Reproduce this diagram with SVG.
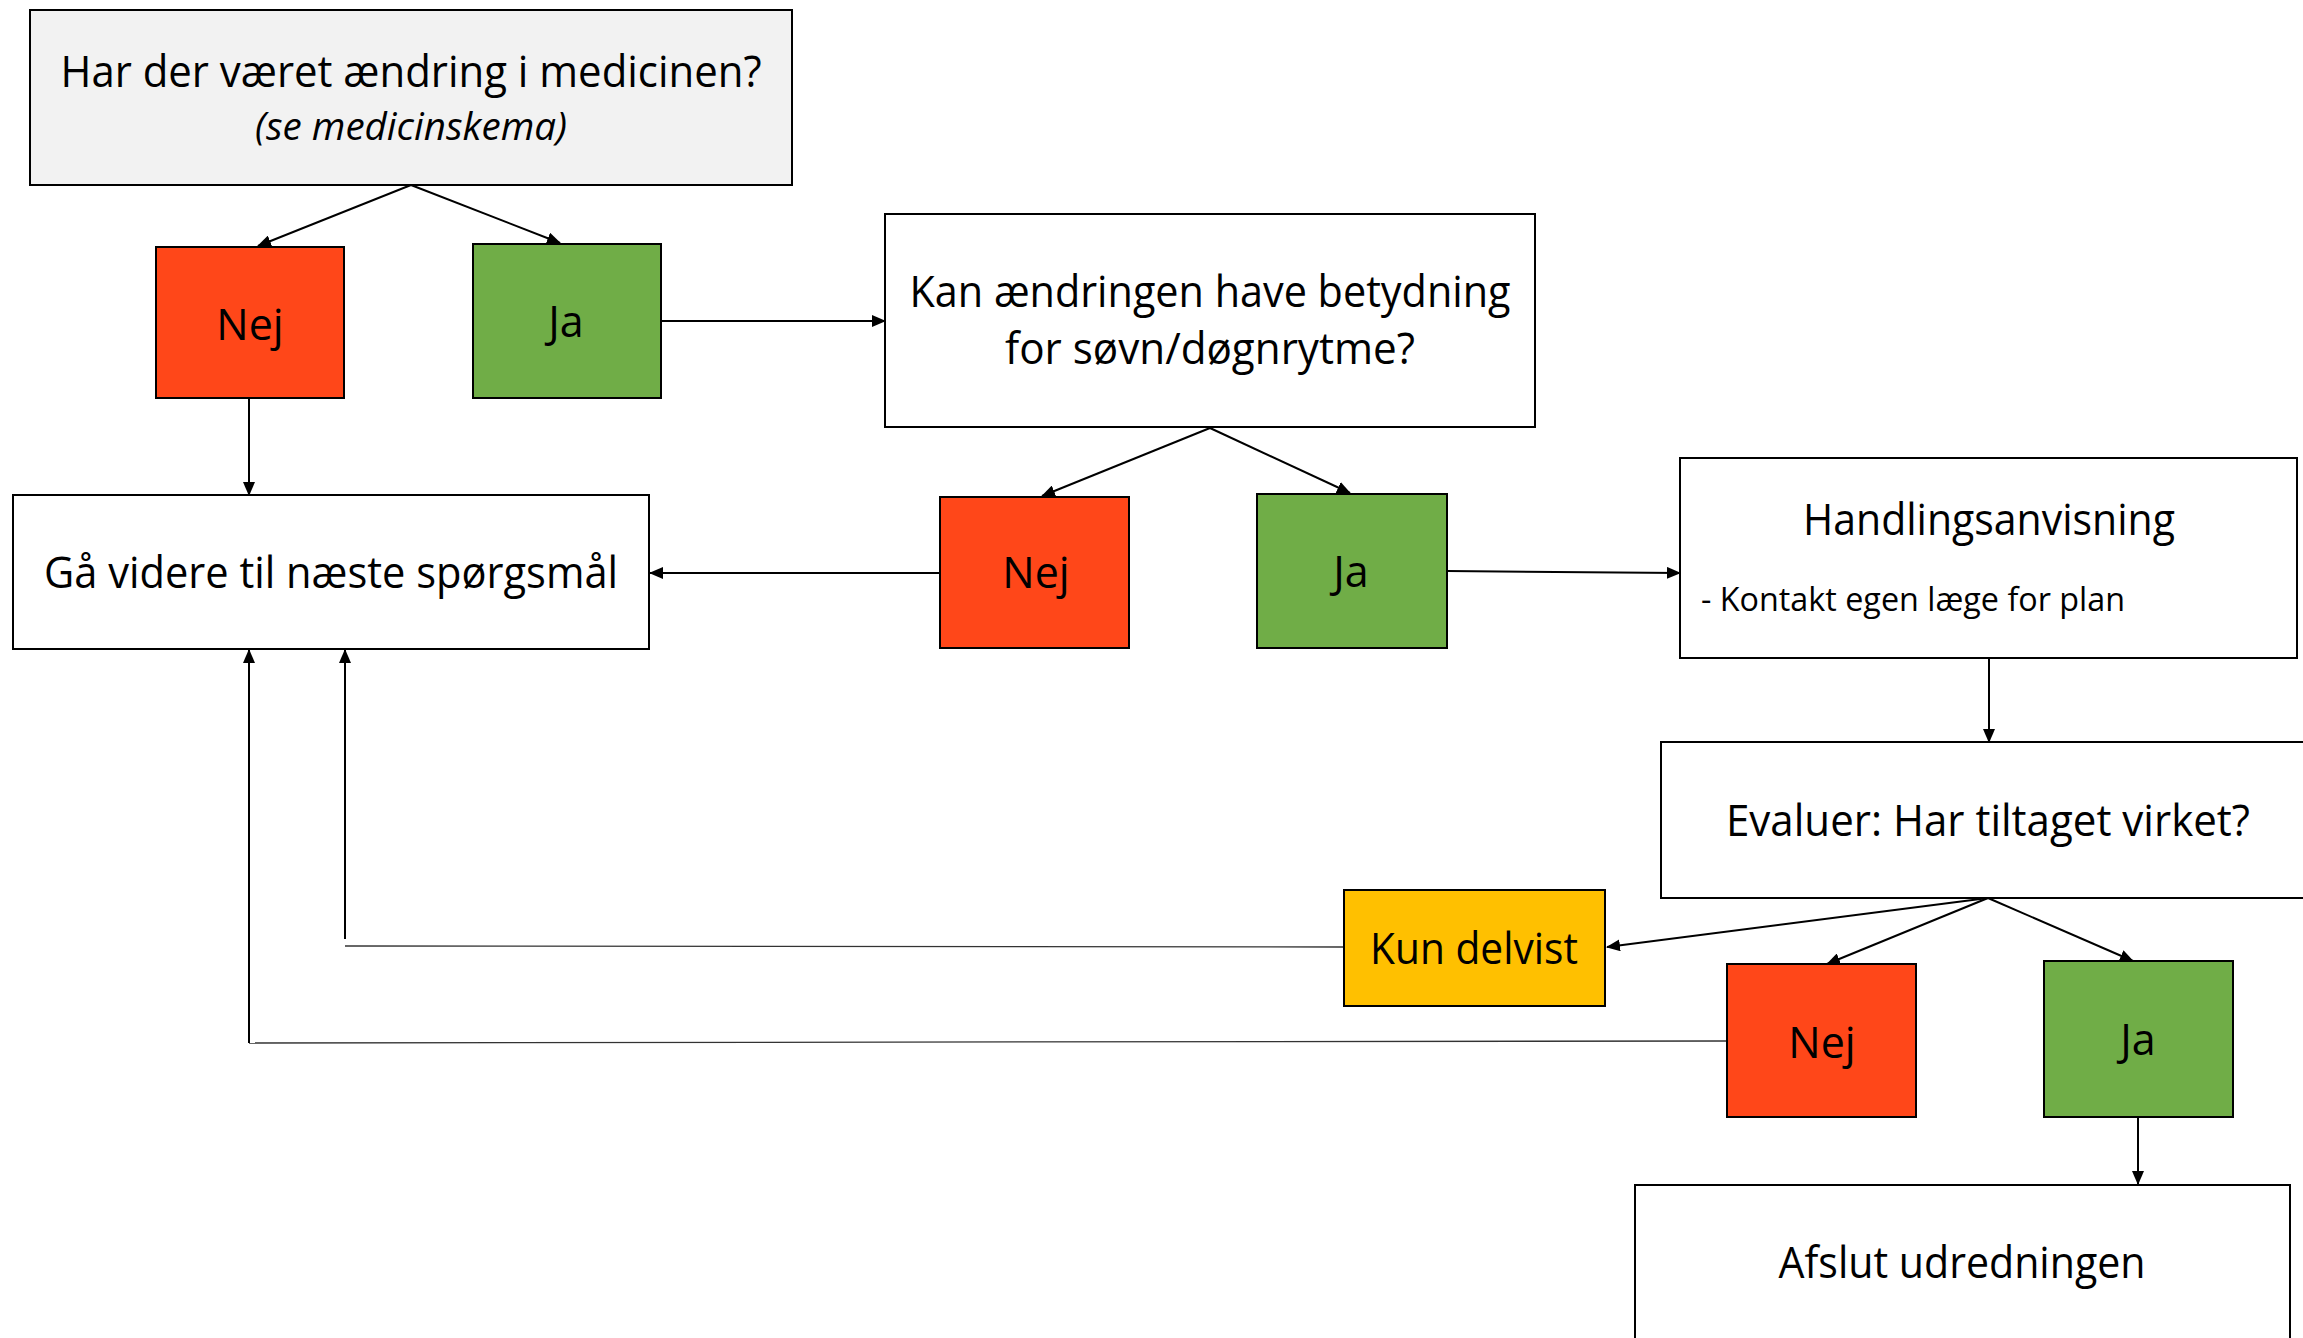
<svg xmlns="http://www.w3.org/2000/svg" width="2303" height="1338" viewBox="0 0 2303 1338">
<style>
.box{stroke:#000;stroke-width:2;fill:#fff}
.grey{fill:#F2F2F2}
.red{fill:#FF4719}
.green{fill:#70AD47}
.yellow{fill:#FFC000}
text{font-family:"Open Sans","Noto Sans","Liberation Sans",sans-serif;fill:#000;text-anchor:middle}
.t{font-size:43px}
.it{font-size:39px;font-style:italic}
.sm{font-size:32px;text-anchor:start}
.c{fill:none;stroke:#000;stroke-width:2}
.thin{fill:none;stroke:#333;stroke-width:1.3}
</style>
<defs>
<marker id="ah" markerUnits="userSpaceOnUse" markerWidth="14" markerHeight="12" refX="13" refY="6" orient="auto">
<path d="M0,0 L14,6 L0,12 z" fill="#000"/>
</marker>
</defs>
<rect width="2303" height="1338" fill="#fff"/>
<g id="connectors">
<path class="c" d="M411,185 L258,246" marker-end="url(#ah)"/>
<path class="c" d="M411,185 L560,243" marker-end="url(#ah)"/>
<path class="c" d="M661,321 L885,321" marker-end="url(#ah)"/>
<path class="c" d="M249,398 L249,495" marker-end="url(#ah)"/>
<path class="c" d="M1210,428 L1042,496" marker-end="url(#ah)"/>
<path class="c" d="M1210,428 L1350,493" marker-end="url(#ah)"/>
<path class="c" d="M940,573 L650,573" marker-end="url(#ah)"/>
<path class="c" d="M1447,571 L1680,573" marker-end="url(#ah)"/>
<path class="c" d="M1989,658 L1989,742" marker-end="url(#ah)"/>
<path class="c" d="M1988,898 L1607,947" marker-end="url(#ah)"/>
<path class="c" d="M1988,898 L1827,964" marker-end="url(#ah)"/>
<path class="c" d="M1988,898 L2133,961" marker-end="url(#ah)"/>
<path class="c" d="M2138,1117 L2138,1184" marker-end="url(#ah)"/>
<path class="thin" d="M1343,947 L345,946"/>
<path class="c" d="M345,939 L345,650" marker-end="url(#ah)"/>
<path class="thin" d="M1727,1041 L249,1043"/>
<path class="c" d="M249,1043 L249,650" marker-end="url(#ah)"/>
</g>
<g id="q1">
<rect class="box grey" x="30" y="10" width="762" height="175"/>
<text class="t" x="411" y="87" textLength="701" lengthAdjust="spacingAndGlyphs">Har der været ændring i medicinen?</text>
<text class="it" x="411" y="140" textLength="312" lengthAdjust="spacingAndGlyphs">(se medicinskema)</text>
</g>
<g id="nej1">
<rect class="box red" x="156" y="247" width="188" height="151"/>
<text class="t" x="250" y="340">Nej</text>
</g>
<g id="ja1">
<rect class="box green" x="473" y="244" width="188" height="154"/>
<text class="t" x="566" y="337">Ja</text>
</g>
<g id="q2">
<rect class="box" x="885" y="214" width="650" height="213"/>
<text class="t" x="1210" y="307" textLength="601" lengthAdjust="spacingAndGlyphs">Kan ændringen have betydning</text>
<text class="t" x="1210" y="364" textLength="410" lengthAdjust="spacingAndGlyphs">for søvn/døgnrytme?</text>
</g>
<g id="next">
<rect class="box" x="13" y="495" width="636" height="154"/>
<text class="t" x="331" y="588" textLength="574" lengthAdjust="spacingAndGlyphs">Gå videre til næste spørgsmål</text>
</g>
<g id="nej2">
<rect class="box red" x="940" y="497" width="189" height="151"/>
<text class="t" x="1036" y="588">Nej</text>
</g>
<g id="ja2">
<rect class="box green" x="1257" y="494" width="190" height="154"/>
<text class="t" x="1351" y="587">Ja</text>
</g>
<g id="action">
<rect class="box" x="1680" y="458" width="617" height="200"/>
<text class="t" x="1989" y="535" textLength="372" lengthAdjust="spacingAndGlyphs">Handlingsanvisning</text>
<text class="sm" x="1701" y="611" textLength="424" lengthAdjust="spacingAndGlyphs">- Kontakt egen læge for plan</text>
</g>
<g id="evaluate">
<rect class="box" x="1661" y="742" width="660" height="156"/>
<text class="t" x="1988" y="836" textLength="524" lengthAdjust="spacingAndGlyphs">Evaluer: Har tiltaget virket?</text>
</g>
<g id="partial">
<rect class="box yellow" x="1344" y="890" width="261" height="116"/>
<text class="t" x="1474" y="964" textLength="208" lengthAdjust="spacingAndGlyphs">Kun delvist</text>
</g>
<g id="nej3">
<rect class="box red" x="1727" y="964" width="189" height="153"/>
<text class="t" x="1822" y="1058">Nej</text>
</g>
<g id="ja3">
<rect class="box green" x="2044" y="961" width="189" height="156"/>
<text class="t" x="2138" y="1055">Ja</text>
</g>
<g id="end">
<rect class="box" x="1635" y="1185" width="655" height="170"/>
<text class="t" x="1962" y="1278" textLength="367" lengthAdjust="spacingAndGlyphs">Afslut udredningen</text>
</g>
</svg>
